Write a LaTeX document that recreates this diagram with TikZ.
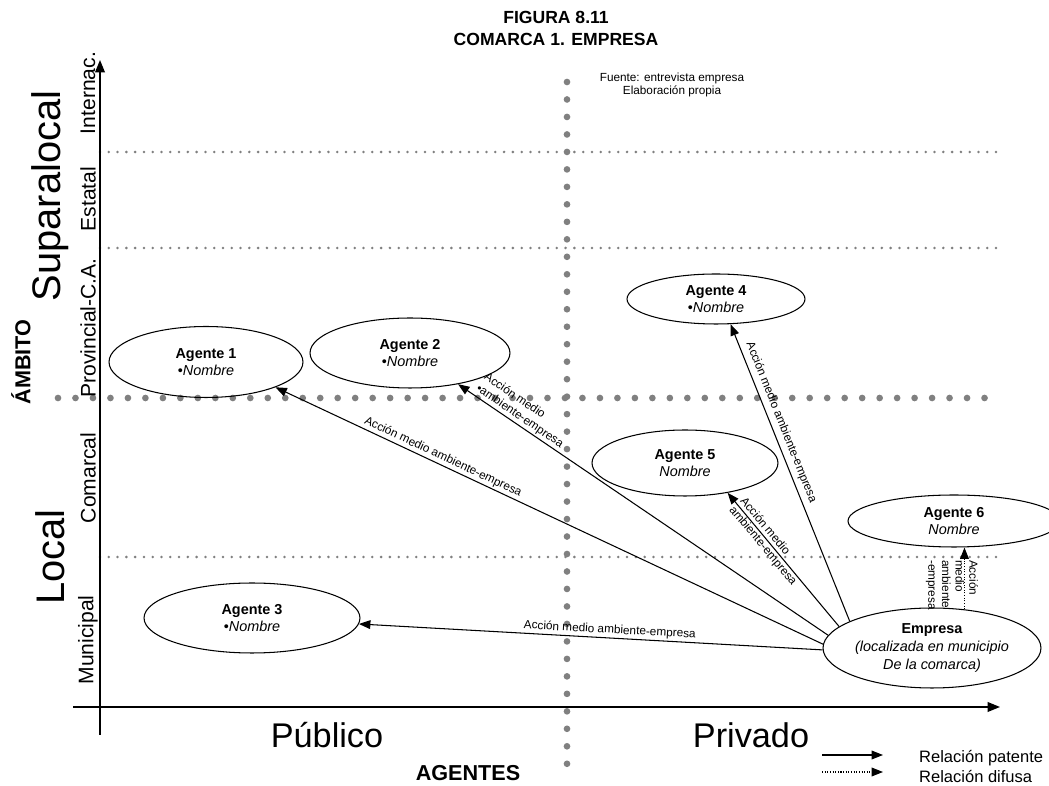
\documentclass[tikz,border=0pt]{standalone}
\usepackage{fontspec}
\setmainfont{Liberation Sans}
\usetikzlibrary{arrows.meta, shapes.geometric, positioning}

\begin{document}
\begin{tikzpicture}[x=0.02cm, y=-0.02cm,
  agente/.style={ellipse, draw, line width=0.6pt, inner sep=0pt, align=center, font=\fontsize{8.2}{10}\selectfont},
  rel/.style={line width=0.6pt, -{Triangle[length=6.5pt, width=5pt]}},
  difusa/.style={line width=0.6pt, dash pattern=on 0.6pt off 0.9pt, -{Triangle[length=6.5pt, width=5pt]}},
  eje/.style={line width=0.8pt, -{Triangle[length=7pt, width=5.5pt]}},
  gruesa/.style={gray, line width=3.8pt, line cap=round, dash pattern=on 0pt off 9.95pt},
  fina/.style={gray, line width=1.6pt, line cap=round, dash pattern=on 0pt off 5pt},
  lbl/.style={inner sep=1pt, font=\fontsize{6.7}{8}\selectfont},
  nivel/.style={rotate=90, font=\fontsize{12}{14}\selectfont},
  grande/.style={font=\fontsize{22.7}{26}\selectfont},
  eje lbl/.style={font=\fontsize{19.5}{22}\selectfont},
  negrita/.style={font=\fontsize{12.3}{14}\selectfont\bfseries}
]
  \useasboundingbox (0,0) rectangle (1049,786);

  % rejilla de puntos
  \draw[fina] (100,152) -- (1000,152);
  \draw[fina] (100,248) -- (1000,248);
  \draw[fina] (100,557) -- (1000,557);
  \draw[gruesa] (58,398) -- (998,398);
  \draw[gruesa] (567,82) -- (567,768);

  % ejes
  \coordinate (yo) at (100,735);
  \coordinate (yt) at (100,60);
  \coordinate (xo) at (73,707);
  \coordinate (xt) at (1000,707);
  \draw[eje] (yo) -- (yt);
  \draw[eje] (xo) -- (xt);

  \node[font=\fontsize{10}{12.5}\selectfont\bfseries, align=center] (tit) at (556,28) {FIGURA 8.11\\COMARCA 1. EMPRESA};
  \node[lbl, font=\fontsize{6.7}{7.4}\selectfont, align=center] (fuente) at (672,85) {Fuente: entrevista empresa\\Elaboración propia};

  % niveles del eje vertical
  \node[nivel] (n1) at (88,93) {Internac.};
  \node[nivel] (n2) at (88,199) {Estatal};
  \node[nivel] (n3) at (88,328) {Provincial-C.A.};
  \node[nivel] (n4) at (88,478) {Comarcal};
  \node[nivel] (n5) at (88,640) {Municipal};
  \node[grande, rotate=90] (supra) at (50,196) {Suparalocal};
  \node[grande, rotate=90] (local) at (50,557) {Local};
  \node[negrita, rotate=90] (ambito) at (21,362) {ÁMBITO};

  \node[eje lbl] (pub) at (327,735) {Público};
  \node[eje lbl] (priv) at (751,735) {Privado};
  \node[negrita] (agentes) at (468,773) {AGENTES};

  % agentes
  \node[agente, minimum width=3.88cm, minimum height=1.42cm] (ag1) at (206,362) {\textbf{Agente 1}\\•\textit{Nombre}};
  \node[agente, minimum width=4cm, minimum height=1.4cm] (ag2) at (410,353) {\textbf{Agente 2}\\•\textit{Nombre}};
  \node[agente, minimum width=4.32cm, minimum height=1.4cm] (ag3) at (252,618) {\textbf{Agente 3}\\•\textit{Nombre}};
  \node[agente, minimum width=3.56cm, minimum height=1cm] (ag4) at (716,299) {\textbf{Agente 4}\\•\textit{Nombre}};
  \node[agente, minimum width=3.72cm, minimum height=1.32cm] (ag5) at (685,463) {\textbf{Agente 5}\\\textit{Nombre}};
  \node[agente, minimum width=4.24cm, minimum height=1.04cm] (ag6) at (954,521) {\textbf{Agente 6}\\\textit{Nombre}};
  \node[agente, minimum width=4.36cm, minimum height=1.6cm] (emp) at (932,648) {\textbf{Empresa}\\\textit{(localizada en municipio}\\\textit{De la comarca)}};

  % relaciones
  \draw[rel] (emp.181) -- node[lbl, sloped, above, pos=0.46] (l3) {Acción medio ambiente-empresa} (ag3);
  \draw[rel] (emp.178) -- node[lbl, sloped, above, pos=0.70] (l1) {Acción medio ambiente-empresa} (ag1.-20);
  \draw[rel] (emp.173) -- node[lbl, sloped, above, pos=0.845, align=left] (l2) {Acción medio\\•ambiente-empresa} (ag2.-33);
  \draw[rel] (emp.162) -- node[lbl, sloped, above=1.5pt, pos=0.656] (l4) {Acción medio ambiente-empresa} (ag4.-60);
  \draw[rel] (emp.167) -- node[lbl, sloped, pos=0.636, align=left] (l5) {Acción medio\\ambiente-empresa} (ag5.-35);
  \draw[difusa] (emp.50) -- (emp.50 |- ag6.south);
  \node[lbl, font=\fontsize{6.7}{7.8}\selectfont, rotate=-90, anchor=west, align=left] (l6) at (952,558) {Acción\\medio\\ambiente\\-empresa};

  % leyenda
  \coordinate (lp0) at (822,755);
  \coordinate (lp1) at (883,755);
  \coordinate (ld0) at (822,772);
  \coordinate (ld1) at (883,772);
  \draw[rel] (lp0) -- (lp1);
  \draw[difusa] (ld0) -- (ld1);
  \node[font=\fontsize{9.4}{11}\selectfont, right=0.6cm of lp1, yshift=-0.06cm] (tp) {Relación patente};
  \node[font=\fontsize{9.4}{11}\selectfont, right=0.6cm of ld1, yshift=-0.1cm] (td) {Relación difusa};
\end{tikzpicture}
\end{document}
